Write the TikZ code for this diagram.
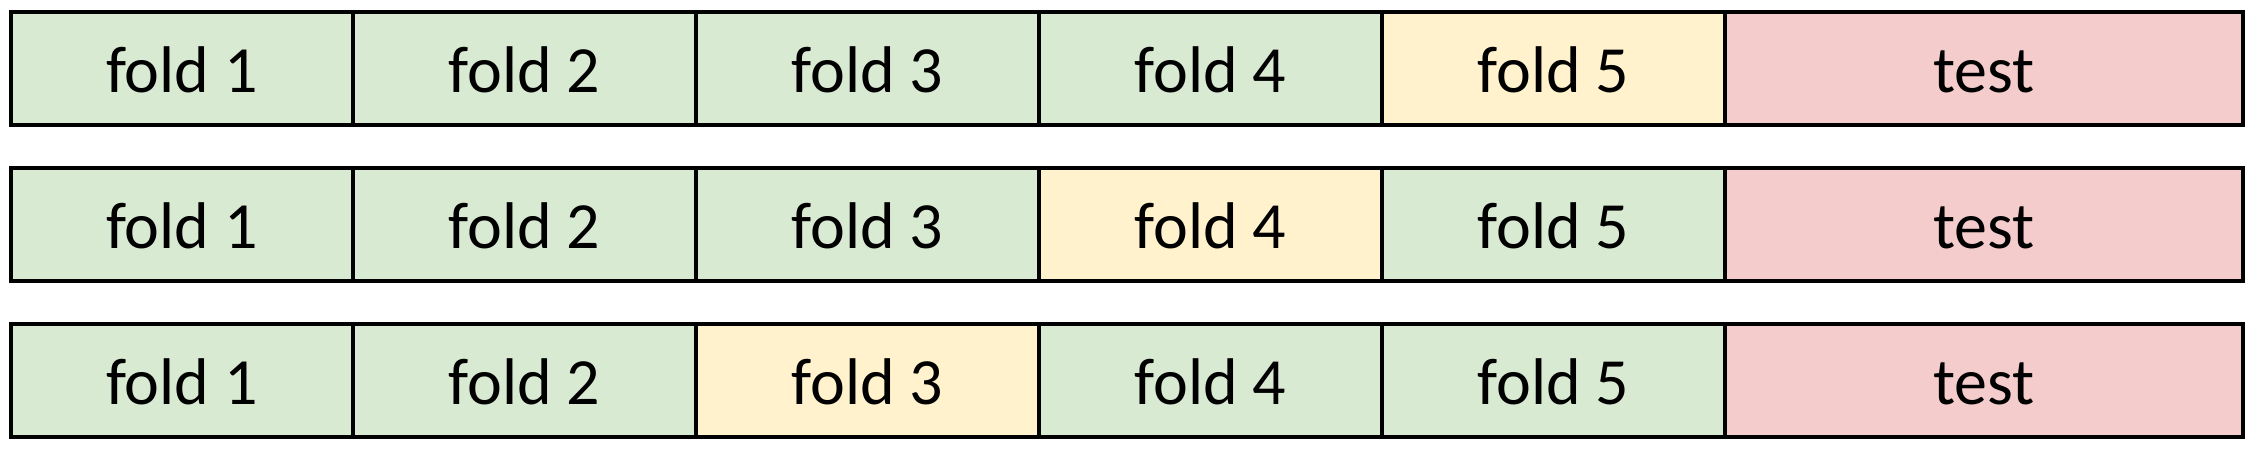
\documentclass[tikz,border=0pt]{standalone}
\usepackage{fontspec}
\setmainfont{Carlito}
\definecolor{cgreen}{HTML}{D9EAD3}
\definecolor{cyellow}{HTML}{FFF2CC}
\definecolor{cred}{HTML}{F4CCCC}
\begin{document}
\begin{tikzpicture}[x=1pt,y=-1pt,
  cell/.style={draw=black,line width=4.2pt},
  lbl/.style={anchor=base,inner sep=0pt,font=\fontsize{66}{66}\selectfont}]
\useasboundingbox (0,0) rectangle (2254,448);
\def\xs{{11,353,696,1039,1382,1725,2243}}
\def\hh{113}
\foreach \r/\y/\hl in {1/12/5,2/168/4,3/324/3}{
  \foreach \i in {1,...,5}{
    \pgfmathsetmacro{\xa}{\xs[\i-1]}
    \pgfmathsetmacro{\xb}{\xs[\i]}
    \ifnum\i=\hl \def\fc{cyellow}\else\def\fc{cgreen}\fi
    \path[cell,fill=\fc] (\xa,\y) rectangle (\xb,\y+\hh);
    \node[lbl] (f\r\i) at ({(\xa+\xb)/2},\y+80) {fold \i};
  }
  \path[cell,fill=cred] (1725,\y) rectangle (2243,\y+\hh);
  \node[lbl] (t\r) at ({(1725+2243)/2},\y+80) {test};
}
\end{tikzpicture}
\end{document}
